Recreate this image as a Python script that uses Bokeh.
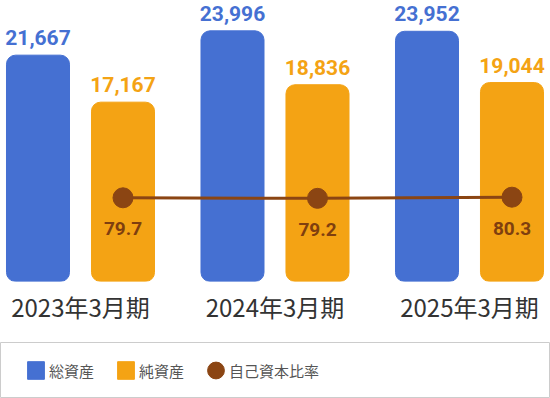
from bokeh.plotting import figure
from bokeh.models import ColumnDataSource, Range1d, FixedTicker, Legend, LegendItem
from bokeh.transform import dodge
from bokeh.layouts import column
from bokeh.core.properties import value
from bokeh.embed import file_html
from bokeh.resources import INLINE

# ---- data ----
periods = ["2023年3月期", "2024年3月期", "2025年3月期"]
total_assets = [21667, 23996, 23952]
net_assets = [17167, 18836, 19044]
equity_ratio = [79.7, 79.2, 80.3]

BLUE = "#4570D2"
ORANGE = "#F4A314"
BROWN = "#8B4513"

xs = list(range(len(periods)))
src = ColumnDataSource(dict(
    x=xs,
    total=total_assets,
    net=net_assets,
    ratio=equity_ratio,
    total_lbl=[f"{v:,}" for v in total_assets],
    net_lbl=[f"{v:,}" for v in net_assets],
    ratio_lbl=[f"{v:.1f}" for v in equity_ratio],
))

W = 550
p = figure(width=W, height=342, output_backend="svg", toolbar_location=None,
           x_range=Range1d(-0.4113, 2.4165), y_range=Range1d(0, 26900),
           min_border_left=0, min_border_right=0, min_border_top=0, min_border_bottom=61)
p.extra_y_ranges = {"ratio": Range1d(0, 267.6)}
p.outline_line_color = None
p.xgrid.visible = False
p.ygrid.visible = False
p.yaxis.visible = False

off = 0.2185
bw = 0.324
p.vbar(x=dodge("x", -off), top="total", width=bw, source=src,
       color=BLUE, border_radius=9)
p.vbar(x=dodge("x", off), top="net", width=bw, source=src,
       color=ORANGE, border_radius=9)

p.text(x=dodge("x", -off), y="total", text="total_lbl", source=src,
       text_align="center", text_baseline="middle", y_offset=-17.5,
       text_font=value("Roboto"), text_font_style="bold", text_font_size="21px",
       text_color=BLUE)
p.text(x=dodge("x", off), y="net", text="net_lbl", source=src,
       text_align="center", text_baseline="middle", y_offset=-17.5,
       text_font=value("Roboto"), text_font_style="bold", text_font_size="21px",
       text_color=ORANGE)

p.line(x=dodge("x", off), y="ratio", source=src, y_range_name="ratio",
       line_color=BROWN, line_width=3)
p.scatter(x=dodge("x", off), y="ratio", source=src, y_range_name="ratio",
          size=20, fill_color=BROWN, line_color=BROWN)
p.text(x=dodge("x", off), y="ratio", text="ratio_lbl", source=src, y_range_name="ratio",
       text_align="center", text_baseline="middle", y_offset=31,
       text_font=value("Roboto"), text_font_style="bold", text_font_size="19px",
       text_color="#7f3f0f")

xa = p.xaxis[0]
xa.ticker = FixedTicker(ticks=xs)
xa.major_label_overrides = {i: lab for i, lab in enumerate(periods)}
xa.axis_line_color = None
xa.major_tick_line_color = None
xa.minor_tick_line_color = None
xa.major_tick_out = 0
xa.major_tick_in = 0
xa.major_label_standoff = 7
xa.major_label_text_font = "Noto Sans CJK JP"
xa.major_label_text_font_size = "24px"
xa.major_label_text_color = "#333333"

# ---- legend panel ----
lg = figure(width=W, height=56, output_backend="svg", toolbar_location=None,
            x_range=Range1d(-10, -9), y_range=Range1d(-10, -9),
            min_border=0, x_axis_location=None, y_axis_location=None)
lg.xgrid.visible = False
lg.ygrid.visible = False
lg.outline_line_color = "#cccccc"
lg.outline_line_width = 1
# legend proxies drawn from the same data, outside the visible range of this panel
d1 = lg.vbar(x="x", top="total", width=0.1, source=src, color=BLUE)
d2 = lg.vbar(x="x", top="net", width=0.1, source=src, color=ORANGE)
d3 = lg.ellipse(x="x", y="ratio", width=20, height=20, width_units="screen",
                height_units="screen", source=src, fill_color=BROWN, line_color=BROWN)
legend = Legend(items=[
    LegendItem(label="総資産", renderers=[d1]),
    LegendItem(label="純資産", renderers=[d2]),
    LegendItem(label="自己資本比率", renderers=[d3]),
], orientation="horizontal", location=(25, 17), margin=0, padding=0,
    spacing=21, glyph_width=21, glyph_height=22, label_standoff=3,
    label_text_font="Noto Sans CJK JP", label_text_font_size="15px",
    label_text_color="#555555", border_line_color=None, background_fill_alpha=0)
lg.add_layout(legend)

layout = column(p, lg, spacing=0)
open("out.html", "w").write(file_html(layout, INLINE))
